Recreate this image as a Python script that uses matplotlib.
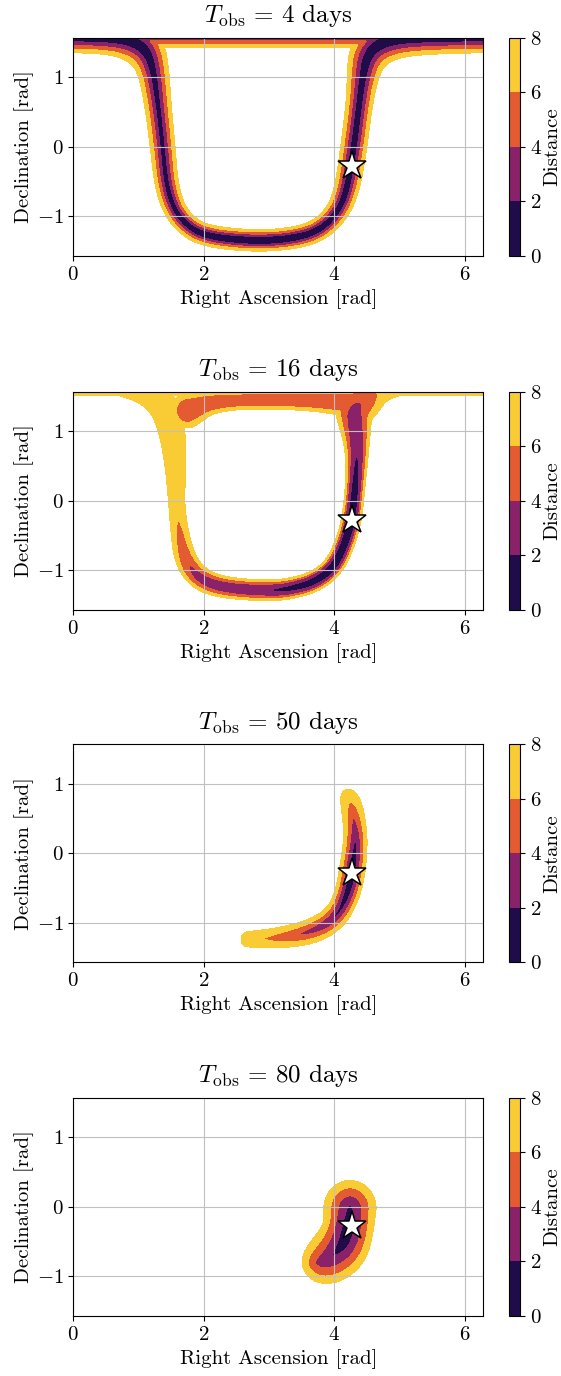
import numpy as np
import matplotlib
matplotlib.use("Agg")
import matplotlib.pyplot as plt

plt.rcParams["font.family"] = "serif"
plt.rcParams["font.serif"] = ["cmr10"]
plt.rcParams["mathtext.fontset"] = "cm"
plt.rcParams["axes.formatter.use_mathtext"] = True

# observation times (days) and source position (RA, Dec) in rad
t_obs = [4, 16, 50, 80]
src_ra, src_dec = 4.27, -0.28
levels = [0, 2, 4, 6, 8]

# ridge nodes: RA, Dec, floor value, half width where distance hits 8
# T = 4 days
p1_main_ra = [-0.2, 0.5, 0.85, 1.1, 1.22, 1.3, 1.37, 1.42, 1.52, 1.7, 2.0, 2.7, 3.3, 3.75, 4.05, 4.2, 4.3, 4.38, 4.44, 4.52, 4.75, 5.2, 6.5]
p1_main_dec = [1.58, 1.57, 1.54, 1.42, 1.15, 0.6, 0.0, -0.5, -0.85, -1.1, -1.28, -1.355, -1.33, -1.22, -0.95, -0.6, 0.0, 0.6, 1.05, 1.35, 1.52, 1.57, 1.58]
p1_main_f = [-0.5, -0.5, -0.5, -0.3, 0.2, 0.5, 0.5, 0.3, 0.0, -0.5, -1.0, -1.5, -1.5, -1.0, -0.5, -0.3, -0.2, 0.0, 0.0, -0.3, -0.5, -0.5, -0.5]
p1_main_h = [0.22, 0.23, 0.28, 0.3, 0.24, 0.2, 0.19, 0.18, 0.17, 0.16, 0.155, 0.155, 0.155, 0.16, 0.17, 0.19, 0.2, 0.2, 0.24, 0.3, 0.3, 0.24, 0.22]
p1_top_ra = [1.2, 2.5, 3.5, 4.5]
p1_top_dec = [1.6, 1.6, 1.6, 1.6]
p1_top_f = [1.0, 1.0, 1.0, 1.0]
p1_top_h = [0.17, 0.17, 0.17, 0.17]

# T = 16 days
p2_strip_ra = [-0.2, 6.5]
p2_strip_dec = [1.62, 1.62]
p2_strip_f = [6.6, 6.6]
p2_strip_h = [0.1, 0.1]
p2_main_ra = [0.7, 1.1, 1.38, 1.52, 1.57, 1.58, 1.62, 1.7, 1.85, 2.1, 2.5, 3.0, 3.3, 3.7, 4.0, 4.17, 4.27, 4.33, 4.35, 4.32, 4.3, 4.45, 4.7, 5.0]
p2_main_dec = [1.62, 1.6, 1.4, 1.0, 0.5, 0.0, -0.4, -0.8, -1.05, -1.2, -1.27, -1.29, -1.27, -1.17, -0.95, -0.6, -0.26, 0.3, 0.75, 1.1, 1.3, 1.45, 1.58, 1.62]
p2_main_f = [7.2, 6.9, 6.6, 6.5, 6.5, 6.6, 5.8, 4.8, 3.4, 2.8, 2.5, 2.1, 1.5, 1.0, 0.7, 0.6, 0.6, 1.2, 2.3, 2.8, 3.3, 4.6, 6.7, 7.2]
p2_main_h = [0.1, 0.2, 0.22, 0.2, 0.16, 0.12, 0.13, 0.16, 0.17, 0.16, 0.15, 0.15, 0.15, 0.15, 0.15, 0.15, 0.15, 0.15, 0.18, 0.24, 0.29, 0.28, 0.16, 0.1]
p2_top_ra = [1.75, 2.2, 3.5, 4.35]
p2_top_dec = [1.3, 1.45, 1.45, 1.4]
p2_top_f = [4.2, 4.2, 4.2, 4.2]
p2_top_h = [0.25, 0.13, 0.13, 0.2]

# T = 50 days
p3_ra = [2.68, 3.2, 3.7, 4.03, 4.2, 4.28, 4.33, 4.3, 4.26, 4.22]
p3_dec = [-1.24, -1.22, -1.12, -0.92, -0.6, -0.25, 0.2, 0.5, 0.7, 0.8]
p3_f = [7.0, 4.8, 3.0, 1.8, 0.5, 0.3, 1.8, 3.8, 5.5, 7.2]
p3_h = [0.11, 0.15, 0.18, 0.18, 0.19, 0.2, 0.18, 0.17, 0.16, 0.12]

# T = 80 days
p4_ra = [4.24, 4.22, 4.13, 3.98, 3.84, 3.75]
p4_dec = [-0.02, -0.3, -0.55, -0.7, -0.78, -0.8]
p4_f = [1.6, 0.5, 0.9, 2.0, 2.6, 3.4]
p4_h = [0.4, 0.38, 0.41, 0.39, 0.33, 0.24]


def smooth(a, n=3):
    a = np.asarray(a, float)
    for _ in range(n):
        q = 0.75 * a[:-1] + 0.25 * a[1:]
        r = 0.25 * a[:-1] + 0.75 * a[1:]
        mid = np.empty(2 * len(q))
        mid[0::2] = q
        mid[1::2] = r
        a = np.r_[a[0], mid, a[-1]]
    return a


def ridge_field(X, Y, ra, dec, f, h, p):
    ra, dec, f, h = smooth(ra), smooth(dec), smooth(f), smooth(h)
    s = np.r_[0, np.cumsum(np.hypot(np.diff(ra), np.diff(dec)))]
    t = np.linspace(0, s[-1], 500)
    rr, dd = np.interp(t, s, ra), np.interp(t, s, dec)
    ff, hh = np.interp(t, s, f), np.interp(t, s, h)
    Z = np.full(X.shape, 99.0)
    for i in range(len(t)):
        d = np.hypot(X - rr[i], Y - dd[i])
        Z = np.minimum(Z, ff[i] + (8 - ff[i]) * (d / hh[i]) ** p)
    return Z


ra_grid = np.linspace(0, 2 * np.pi, 400)
dec_grid = np.linspace(-np.pi / 2, np.pi / 2, 240)
X, Y = np.meshgrid(ra_grid, dec_grid)

Z1 = np.minimum(ridge_field(X, Y, p1_main_ra, p1_main_dec, p1_main_f, p1_main_h, 1.0),
                ridge_field(X, Y, p1_top_ra, p1_top_dec, p1_top_f, p1_top_h, 1.0))
Z2 = np.minimum(ridge_field(X, Y, p2_main_ra, p2_main_dec, p2_main_f, p2_main_h, 2.0),
                ridge_field(X, Y, p2_top_ra, p2_top_dec, p2_top_f, p2_top_h, 2.0))
Z2 = np.minimum(Z2, ridge_field(X, Y, p2_strip_ra, p2_strip_dec, p2_strip_f, p2_strip_h, 1.0))
Z3 = ridge_field(X, Y, p3_ra, p3_dec, p3_f, p3_h, 1.2)
Z4 = ridge_field(X, Y, p4_ra, p4_dec, p4_f, p4_h, 1.2)
fields = [np.clip(z, 0, None) for z in (Z1, Z2, Z3, Z4)]

fig = plt.figure(figsize=(5.61, 13.76), dpi=100)
tops = [37.7, 391.7, 744, 1097.7]
H = 1376.0
ax_h = 218.3

for k in range(4):
    bottom = 1 - (tops[k] + ax_h) / H
    ax = fig.add_axes([73.3 / 561, bottom, 410 / 561, ax_h / H])
    cax = fig.add_axes([509 / 561, bottom, 11 / 561, ax_h / H])
    cs = ax.contourf(X, Y, fields[k], levels=levels, cmap="inferno")
    ax.plot(src_ra, src_dec, marker="*", ms=21, mfc="white", mec="black", mew=1.1, zorder=5)
    ax.set_xlim(0, 2 * np.pi)
    ax.set_ylim(-np.pi / 2, np.pi / 2)
    ax.set_xticks([0, 2, 4, 6])
    ax.set_yticks([-1, 0, 1])
    ax.grid(True, color="#c0c0c0")
    ax.tick_params(labelsize=15)
    ax.set_xlabel("Right Ascension [rad]", fontsize=15, labelpad=4)
    ax.set_ylabel("Declination [rad]", fontsize=15, labelpad=2)
    ax.set_title(r"$T_{\rm obs}\,=\,%d$ days" % t_obs[k], fontsize=18, pad=11)
    cb = fig.colorbar(cs, cax=cax)
    cb.set_ticks(levels)
    cb.ax.tick_params(labelsize=15)
    cb.set_label("Distance", fontsize=15, labelpad=1)

fig.savefig("out.png", dpi=100)
